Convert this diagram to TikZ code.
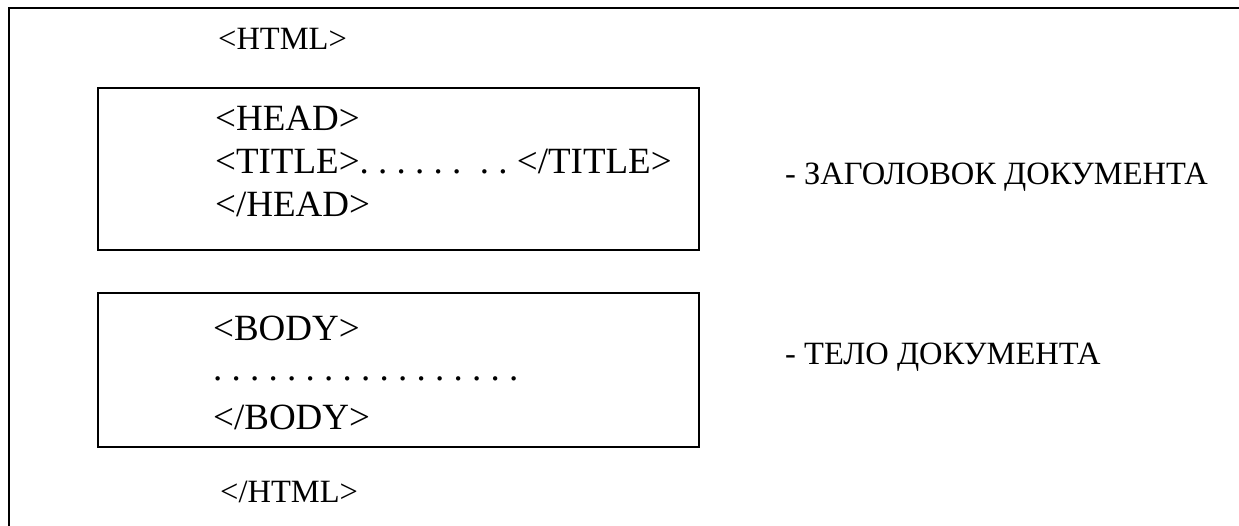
\documentclass[tikz,border=0pt]{standalone}
\usepackage{fontspec}
\setmainfont{Liberation Serif}
\begin{document}
\frenchspacing
\begin{tikzpicture}[x=1pt,y=-1pt,
  frame/.style={draw=black,line width=1.8pt},
  tbox/.style={draw=black,line width=1.8pt,inner sep=0pt,minimum width=601pt},
  bigtxt/.style={anchor=base west,inner sep=0pt,font=\fontsize{37}{44}\selectfont},
  smalltxt/.style={anchor=base west,inner sep=0pt,font=\fontsize{32.5}{39}\selectfont}]
\useasboundingbox (0,0) rectangle (1239,526);
% outer frame (continues beyond the right and bottom edges)
\coordinate (fbl) at (9,526);
\coordinate (ftl) at (9,8);
\coordinate (ftr) at (1239,8);
\draw[frame] (fbl) -- (ftl) -- (ftr);
% boxes
\node[tbox,minimum height=162pt] (headbox) at (398.5,169) {};
\node[tbox,minimum height=154pt] (bodybox) at (398.5,370) {};
% texts
\node[smalltxt] (html) at (218,50) {<HTML>};
\node[bigtxt] (head) at (215,131) {<HEAD>};
\node[bigtxt] (title) at (215,174) {<TITLE>. . . . . .\ \ . . </TITLE>};
\node[bigtxt] (headend) at (215,217) {</HEAD>};
\node[bigtxt] (body) at (213,341) {<BODY>};
\node[bigtxt] (dots) at (213,380) {. . . . . . . . . . . . . . . . .};
\node[bigtxt] (bodyend) at (213,429) {</BODY>};
\node[smalltxt] (htmlend) at (220,502) {</HTML>};
\node[smalltxt] (headlbl) at (785,185) {- ЗАГОЛОВОК ДОКУМЕНТА};
\node[smalltxt] (bodylbl) at (785,364) {- ТЕЛО ДОКУМЕНТА};
\end{tikzpicture}
\end{document}
